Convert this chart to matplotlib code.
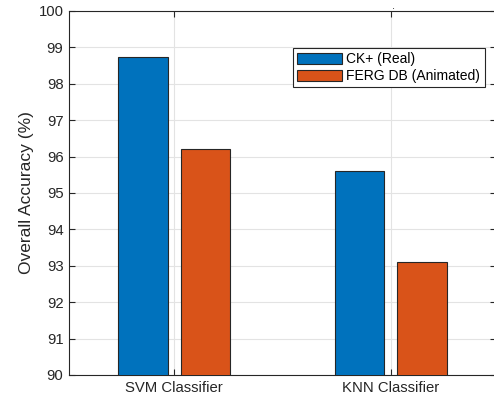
import matplotlib
matplotlib.use("Agg")
import matplotlib.pyplot as plt
import numpy as np

categories = ["SVM Classifier", "KNN Classifier"]
series_names = ["CK+ (Real)", "FERG DB (Animated)"]
ck_real = [98.75, 95.6]
ferg_animated = [96.2, 93.1]
yticks = [90, 91, 92, 93, 94, 95, 96, 97, 98, 99, 100]

plt.rcParams['font.family'] = ['Liberation Sans', 'DejaVu Sans']

W, H = 494, 398
fig = plt.figure(figsize=(W/100, H/100), dpi=100)
left, right, top, bottom = 69, 496, 11, 375
ax = fig.add_axes([left/W, 1-bottom/H, (right-left)/W, (bottom-top)/H])

x = np.arange(1, len(categories)+1)
off = 0.143
bw = 0.226
colors = ["#0072BD", "#D95319"]
ax.bar(x-off, ck_real, bw, color=colors[0], edgecolor="#262626", linewidth=0.8,
       label=series_names[0], zorder=3)
ax.bar(x+off, ferg_animated, bw, color=colors[1], edgecolor="#262626", linewidth=0.8,
       label=series_names[1], zorder=3)

ax.set_xlim(0.516, 2.484)
ax.set_ylim(90, 100)
ax.set_yticks(yticks)
ax.set_xticks(x)
ax.set_xticklabels(categories)
ax.tick_params(direction='in', length=4.5, width=0.8, colors="#262626",
               labelsize=10.7, top=True, right=True, labelcolor="#262626")
ax.tick_params(axis='y', pad=4)
ax.tick_params(axis='x', pad=4)
ax.grid(True, color="#e3e3e3", linewidth=0.8, zorder=0)
ax.set_axisbelow(True)
for s in ax.spines.values():
    s.set_color("#262626")
    s.set_linewidth(0.8)
ax.set_ylabel("Overall Accuracy (%)", fontsize=12.5, color="#262626", labelpad=3)

leg = ax.legend(loc='upper left', bbox_to_anchor=(293/W, 1-48/H),
                bbox_transform=fig.transFigure, fontsize=10, fancybox=False,
                framealpha=1, edgecolor="#262626", handlelength=3.2,
                handleheight=0.9, handletextpad=0.35, borderpad=0.3,
                labelspacing=0.22, borderaxespad=0)
leg.get_frame().set_linewidth(0.8)

fig.text(393/W, 1-6/H, ".", fontsize=8, ha='center', va='center', color="#222222")

fig.savefig("out.png", dpi=100)
